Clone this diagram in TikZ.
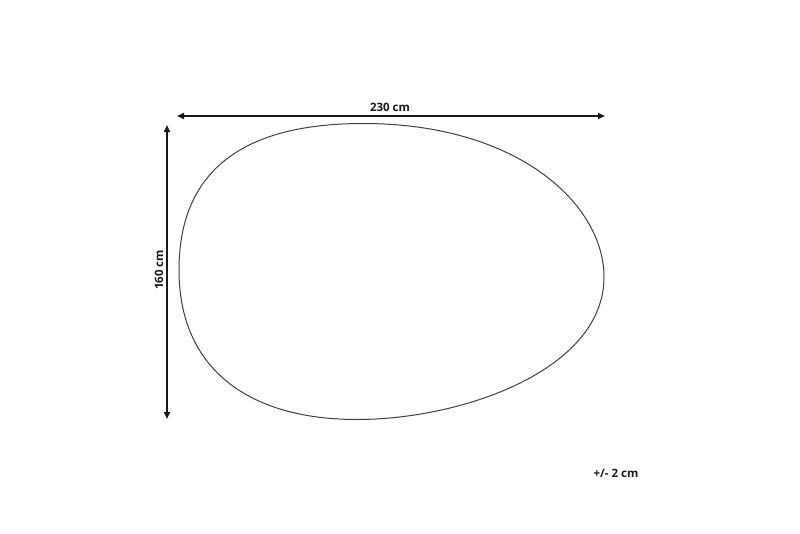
\documentclass[tikz,border=0pt]{standalone}
\usepackage{fontspec}
\setmainfont{Open Sans}
\usetikzlibrary{arrows.meta}
\begin{document}
\begin{tikzpicture}[x=1pt,y=-1pt,
  dimline/.style={line width=1.8pt,draw=black!90,{Triangle[length=7pt,width=6pt]}-{Triangle[length=7pt,width=6pt]}},
  dimlabel/.style={font=\bfseries\fontsize{11.5}{13}\selectfont,text=black!90,inner sep=0pt},
  outline/.style={draw=black!75,line width=1pt}]
\useasboundingbox (0,0) rectangle (800,533);
\fill[white] (0,0) rectangle (800,533);
\coordinate (hl) at (177,116);
\coordinate (hr) at (605,116);
\coordinate (vt) at (167,125);
\coordinate (vb) at (167,419);
\draw[dimline] (hl) -- (hr);
\draw[dimline] (vt) -- (vb);
\node[dimlabel] (w) at (390,107) {230 cm};
\node[dimlabel,rotate=90] (h) at (159,270) {160 cm};
\node[dimlabel] (tol) at (616,473) {+/- 2 cm};
\coordinate (top) at (363,123.5);
\coordinate (right) at (604,277);
\coordinate (bottom) at (357,419.5);
\coordinate (left) at (179,270);
\draw[outline] (top)
  .. controls (519,123.5) and (604,205) .. (right)
  .. controls (604,370) and (462,419.5) .. (bottom)
  .. controls (250,419.5) and (179,370) .. (left)
  .. controls (179,173) and (240,123.5) .. (top) -- cycle;
\end{tikzpicture}
\end{document}
